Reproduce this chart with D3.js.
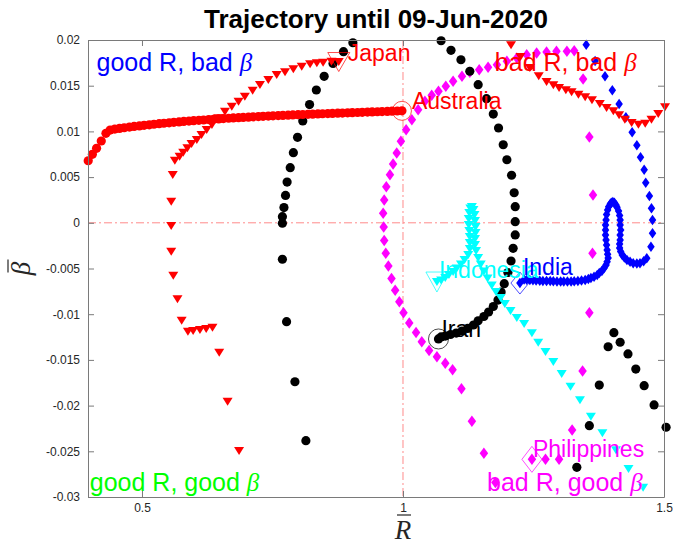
<!DOCTYPE html>
<html>
<head>
<meta charset="utf-8">
<script src="https://cdn.jsdelivr.net/npm/d3@7"></script>
<style>
  body { margin: 0; background: #fff; }
  svg { display: block; font-family: "Liberation Sans", Arial, Helvetica, sans-serif; }
</style>
</head>
<body>
<svg id="chart" width="678" height="546"></svg>
<script>
// ---- data: mean reproduction number R and growth-rate change beta per country ----
const australiaR = [0.397,0.405,0.413,0.422,0.431,0.439,0.448,0.457,0.466,0.476,0.485,0.495,0.504,0.514,0.523,0.533,0.542,0.552,0.561,0.571,0.580,0.590,0.599,0.609,0.618,0.628,0.637,0.647,0.656,0.666,0.675,0.685,0.694,0.704,0.713,0.723,0.732,0.742,0.751,0.761,0.770,0.780,0.789,0.799,0.808,0.818,0.827,0.837,0.846,0.856,0.865,0.875,0.884,0.894,0.903,0.913,0.922,0.932,0.941,0.951,0.960,0.970,0.979,0.989,0.998];
const australiaBeta = [0.00679,0.00749,0.00815,0.00895,0.00979,0.01015,0.01025,0.01033,0.01040,0.01047,0.01054,0.01060,0.01066,0.01072,0.01078,0.01084,0.01089,0.01094,0.01099,0.01104,0.01109,0.01113,0.01117,0.01121,0.01125,0.01129,0.01133,0.01137,0.01140,0.01144,0.01147,0.01150,0.01153,0.01156,0.01159,0.01162,0.01165,0.01168,0.01170,0.01173,0.01175,0.01178,0.01180,0.01183,0.01185,0.01187,0.01189,0.01191,0.01193,0.01195,0.01197,0.01199,0.01201,0.01203,0.01205,0.01207,0.01209,0.01211,0.01213,0.01215,0.01217,0.01219,0.01221,0.01223,0.01225];

const japanR = [0.686,0.664,0.648,0.635,0.623,0.611,0.598,0.588,0.576,0.568,0.560,0.556,0.556,0.556,0.559,0.563,0.572,0.579,0.587,0.595,0.605,0.614,0.624,0.634,0.646,0.659,0.672,0.685,0.697,0.712,0.726,0.742,0.758,0.774,0.790,0.806,0.822,0.835,0.847,0.863,0.877];
const japanBeta = [-0.02497,-0.01957,-0.01421,-0.01148,-0.01162,-0.01173,-0.01184,-0.01191,-0.01071,-0.00837,-0.00579,-0.00316,-0.00035,0.00231,0.00523,0.00679,0.00723,0.00767,0.00815,0.00862,0.00906,0.00961,0.01015,0.01070,0.01143,0.01216,0.01270,0.01325,0.01380,0.01445,0.01508,0.01562,0.01617,0.01647,0.01679,0.01708,0.01734,0.01745,0.01752,0.01763,0.01759];

// red trajectory whose end lies past the right edge (no label inside the axes)
const redTrailR = [1.207,1.225,1.243,1.260,1.275,1.288,1.299,1.312,1.323,1.336,1.349,1.362,1.377,1.390,1.403,1.414,1.425,1.438,1.451,1.464,1.476,1.489,1.502];
const redTrailBeta = [0.01942,0.01814,0.01694,0.01603,0.01540,0.01504,0.01475,0.01450,0.01428,0.01402,0.01373,0.01340,0.01300,0.01256,0.01220,0.01176,0.01128,0.01092,0.01073,0.01084,0.01128,0.01190,0.01264];

const iranR = [1.333,1.357,1.376,1.393,1.404,1.416,1.431,1.446,1.462,1.481,1.504,
  0.814,0.793,0.777,0.769,0.769,0.769,0.772,0.775,0.778,0.784,0.790,0.798,0.808,0.821,0.834,0.849,0.866,0.886,0.904,
  1.073,1.092,1.111,1.128,1.144,1.160,1.173,1.183,1.192,1.199,1.208,1.213,1.215,1.215,1.215,1.211,1.207,1.201,1.194,1.188,1.182,1.173,1.164,1.155,1.144,1.135,1.124,1.113,1.102,1.091,1.081,1.073,1.068];
const iranBeta = [-0.02675,-0.02220,-0.01775,-0.01356,-0.01202,-0.01307,-0.01435,-0.01600,-0.01782,-0.01993,-0.02237,
  -0.02384,-0.01739,-0.01082,-0.00399,-0.00005,0.00067,0.00167,0.00299,0.00446,0.00603,0.00767,0.00935,0.01114,0.01294,0.01453,0.01603,0.01743,0.01872,0.01970,
  0.01992,0.01887,0.01784,0.01658,0.01511,0.01358,0.01190,0.01037,0.00854,0.00690,0.00520,0.00329,0.00176,0.00012,-0.00133,-0.00279,-0.00418,-0.00544,-0.00666,-0.00757,-0.00845,-0.00916,-0.00976,-0.01025,-0.01072,-0.01118,-0.01156,-0.01184,-0.01206,-0.01222,-0.01239,-0.01249,-0.01271];

const philippinesR = [1.177,1.155,1.132,1.112,1.095,1.081,1.065,1.050,1.036,1.025,1.012,1.001,0.993,0.985,0.978,0.972,0.967,0.964,0.963,0.962,0.964,0.968,0.975,0.981,0.988,0.996,1.006,1.017,1.029,1.042,1.055,1.068,1.082,1.096,1.113,1.128,1.146,1.163,1.180,1.199,1.218,1.237,1.256,1.275,1.294,1.314,1.328,
  1.345,1.357,1.364,1.363,1.357,1.344,1.324,1.299,1.273,1.247];
const philippinesBeta = [-0.02841,-0.02522,-0.02171,-0.01815,-0.01607,-0.01537,-0.01465,-0.01397,-0.01301,-0.01200,-0.01096,-0.00984,-0.00863,-0.00739,-0.00609,-0.00473,-0.00334,-0.00194,-0.00046,0.00104,0.00249,0.00395,0.00526,0.00643,0.00764,0.00892,0.01019,0.01128,0.01237,0.01329,0.01395,0.01439,0.01493,0.01548,0.01603,0.01647,0.01675,0.01701,0.01730,0.01767,0.01803,0.01839,0.01858,0.01869,0.01876,0.01876,0.01883,
  0.01573,0.00939,0.00304,-0.00334,-0.00984,-0.01621,-0.02267,-0.02588,-0.02588,-0.02588];

const indonesiaR = [1.460,1.432,1.408,1.382,1.360,1.339,1.321,1.304,1.288,1.273,1.259,1.247,1.232,1.218,1.206,1.195,1.187,1.178,1.170,1.162,1.155,1.149,1.144,1.140,1.138,1.138,1.139,1.139,1.138,1.137,1.135,1.132,1.129,1.127,1.126,1.126,1.127,1.128,1.128,1.128,1.125,1.118,1.111,1.103,1.096,1.088,1.081,1.073,1.065];
const indonesiaBeta = [-0.02898,-0.02694,-0.02489,-0.02303,-0.02121,-0.01942,-0.01793,-0.01654,-0.01523,-0.01414,-0.01312,-0.01209,-0.01107,-0.01042,-0.00965,-0.00888,-0.00823,-0.00757,-0.00686,-0.00609,-0.00533,-0.00456,-0.00385,-0.00309,-0.00243,-0.00177,-0.00112,-0.00046,0.00020,0.00085,0.00140,0.00173,0.00156,0.00107,0.00042,-0.00024,-0.00090,-0.00155,-0.00221,-0.00287,-0.00352,-0.00407,-0.00456,-0.00500,-0.00538,-0.00571,-0.00604,-0.00631,-0.00648];

const indiaR = [1.351,1.368,1.387,1.401,1.414,1.427,1.439,1.448,1.455,1.462,1.465,1.472,1.476,1.478,1.478,1.475,1.467,1.461,1.454,1.448,1.441,1.435,1.429,1.424,1.420,1.417,1.415,1.415,1.416,1.416,1.417,1.416,1.416,1.415,1.413,1.410,1.408,1.405,1.402,1.399,1.397,1.394,1.392,1.390,1.389,1.388,1.388,1.388,1.389,1.390,1.391,1.392,1.393,1.391,1.389,1.385,1.381,1.376,1.372,1.366,1.360,1.355,1.349,1.342,1.335,1.328,1.322,1.315,1.308,1.302,1.295,1.288,1.282,1.275,1.268,1.262,1.255,1.249,1.243,1.237,1.232,1.224];
const indiaBeta = [0.01949,0.01770,0.01603,0.01450,0.01300,0.01154,0.00990,0.00848,0.00717,0.00581,0.00439,0.00293,0.00159,0.00031,-0.00115,-0.00261,-0.00388,-0.00420,-0.00443,-0.00445,-0.00443,-0.00425,-0.00407,-0.00380,-0.00352,-0.00315,-0.00276,-0.00232,-0.00188,-0.00134,-0.00079,-0.00024,0.00031,0.00080,0.00129,0.00170,0.00195,0.00220,0.00228,0.00220,0.00206,0.00175,0.00140,0.00090,0.00031,-0.00024,-0.00079,-0.00134,-0.00188,-0.00243,-0.00298,-0.00345,-0.00385,-0.00425,-0.00462,-0.00497,-0.00527,-0.00550,-0.00571,-0.00590,-0.00604,-0.00615,-0.00626,-0.00632,-0.00637,-0.00640,-0.00642,-0.00642,-0.00642,-0.00642,-0.00642,-0.00640,-0.00637,-0.00637,-0.00637,-0.00634,-0.00631,-0.00628,-0.00626,-0.00623,-0.00620,-0.00659];

const xTicks = [0.5, 1, 1.5];
const xTickLabels = ["0.5", "1", "1.5"];
const yTicks = [-0.03, -0.025, -0.02, -0.015, -0.01, -0.005, 0, 0.005, 0.01, 0.015, 0.02];
const yTickLabels = ["-0.03", "-0.025", "-0.02", "-0.015", "-0.01", "-0.005", "0", "0.005", "0.01", "0.015", "0.02"];
const xLimits = [0.3966, 1.5];
const yLimits = [-0.03, 0.02];
const titleText = "Trajectory until 09-Jun-2020";

// quadrant captions: text before the beta symbol, anchor in data units
const quadrantText = ["good R, bad ", "bad R, bad ", "good R, good ", "bad R, good "];
const quadrantR = [0.413, 1.176, 0.400, 1.161];
const quadrantBeta = [0.0166, 0.0166, -0.0293, -0.0293];

// ---- layout & styles ----
const plot = { left: 88, right: 664, top: 40, bottom: 497 };
const svg = d3.select("#chart");
const serif = "'Liberation Serif', 'Times New Roman', serif";

const x = d3.scaleLinear().domain(xLimits).range([plot.left, plot.right]);
const y = d3.scaleLinear().domain(yLimits).range([plot.bottom, plot.top]);

const tri = (w, h) => `M${-w/2},${-h/2}L${w/2},${-h/2}L0,${h/2}Z`;
const dia = (w, h) => `M0,${-h/2}L${w/2},0L0,${h/2}L${-w/2},0Z`;

const series = [
  { name: "Philippines", R: philippinesR, B: philippinesBeta, color: "#ff00ff", shape: "diamond", w: 8.5, h: 11.5,
    end: { shape: "diamond", w: 20, h: 26 }, label: { dx: 1, dy: -2 } },
  { name: "Iran", R: iranR, B: iranBeta, color: "#000000", shape: "circle", r: 4.6,
    end: { shape: "circle", r: 10 }, label: { dx: 3, dy: -2 } },
  { name: "Indonesia", R: indonesiaR, B: indonesiaBeta, color: "#00ffff", shape: "triangle", w: 10, h: 8,
    end: { shape: "triangle", w: 22, h: 20 }, label: { dx: 2, dy: -4 } },
  { name: "India", R: indiaR, B: indiaBeta, color: "#0000ff", shape: "diamond", w: 7.5, h: 10.5,
    end: { shape: "diamond", w: 18, h: 22 }, label: { dx: 3, dy: -8 } },
  { name: null, R: redTrailR, B: redTrailBeta, color: "#ff0000", shape: "triangle", w: 10, h: 8 },
  { name: "Japan", R: japanR, B: japanBeta, color: "#ff0000", shape: "triangle", w: 10, h: 8,
    end: { shape: "triangle", w: 22, h: 19 }, label: { dx: 9, dy: -1 } },
  { name: "Australia", R: australiaR, B: australiaBeta, color: "#ff0000", shape: "circle", r: 4.6,
    end: { shape: "circle", r: 9.5 }, label: { dx: 10, dy: -2 } }
];

// ---- reference lines R = 1 and beta = 0 ----
const refG = svg.append("g").attr("stroke", "#ff8a8a").attr("stroke-width", 1)
  .attr("stroke-dasharray", "8,3,2,3");
refG.append("line").attr("x1", x(1)).attr("x2", x(1)).attr("y1", plot.top).attr("y2", plot.bottom);
refG.append("line").attr("x1", plot.left).attr("x2", plot.right).attr("y1", y(0)).attr("y2", y(0));

// ---- trajectories ----
series.forEach(s => {
  const pts = d3.zip(s.R, s.B);
  const g = svg.append("g").attr("fill", s.color);
  if (s.shape === "circle") {
    g.selectAll("circle").data(pts).join("circle")
      .attr("cx", d => x(d[0])).attr("cy", d => y(d[1])).attr("r", s.r);
  } else {
    const p = s.shape === "triangle" ? tri(s.w, s.h) : dia(s.w, s.h);
    g.selectAll("path").data(pts).join("path")
      .attr("transform", d => `translate(${x(d[0])},${y(d[1])})`).attr("d", p);
  }
});

// ---- hollow markers at the latest point ----
series.filter(s => s.end).forEach(s => {
  const cx = x(s.R[s.R.length - 1]), cy = y(s.B[s.B.length - 1]);
  const e = s.end;
  if (e.shape === "circle") {
    svg.append("circle").attr("cx", cx).attr("cy", cy).attr("r", e.r)
      .attr("fill", "none").attr("stroke", s.color).attr("stroke-width", 0.7);
  } else {
    svg.append("path").attr("transform", `translate(${cx},${cy})`)
      .attr("d", e.shape === "triangle" ? tri(e.w, e.h) : dia(e.w, e.h))
      .attr("fill", "none").attr("stroke", s.color).attr("stroke-width", 0.7);
  }
});

// ---- country labels ----
series.filter(s => s.name).forEach(s => {
  const cx = x(s.R[s.R.length - 1]), cy = y(s.B[s.B.length - 1]);
  svg.append("text")
    .attr("x", cx + s.label.dx).attr("y", cy + s.label.dy)
    .attr("fill", s.color).attr("font-size", 23)
    .text(s.name);
});

// ---- quadrant captions ----
const quadColors = ["#0000ff", "#ff0000", "#00ff00", "#ff00ff"];
quadrantText.forEach((t, i) => {
  const tx = svg.append("text")
    .attr("x", x(quadrantR[i])).attr("y", y(quadrantBeta[i]))
    .attr("fill", quadColors[i]).attr("font-size", 25);
  tx.append("tspan").text(t);
  tx.append("tspan").attr("font-family", serif).attr("font-style", "italic").text("\u03B2");
});

// ---- axes (box with inward ticks on all four sides) ----
const axisColor = "#7a7a7a";
const styleAxis = g => {
  g.select(".domain").attr("stroke", axisColor);
  g.selectAll(".tick line").attr("stroke", axisColor);
  g.selectAll(".tick text").attr("fill", "#262626").attr("font-size", 12)
    .attr("font-family", "'Liberation Sans', Arial, Helvetica, sans-serif");
};
svg.append("g").attr("transform", `translate(0,${plot.bottom})`)
  .call(d3.axisBottom(x).tickValues(xTicks).tickFormat((d, i) => xTickLabels[i])
    .tickSizeInner(-6).tickSizeOuter(0).tickPadding(6))
  .call(styleAxis);
svg.append("g").attr("transform", `translate(0,${plot.top})`)
  .call(d3.axisTop(x).tickValues(xTicks).tickFormat("").tickSizeInner(-6).tickSizeOuter(0))
  .call(styleAxis);
svg.append("g").attr("transform", `translate(${plot.left},0)`)
  .call(d3.axisLeft(y).tickValues(yTicks).tickFormat((d, i) => yTickLabels[i])
    .tickSizeInner(-6).tickSizeOuter(0).tickPadding(8))
  .call(styleAxis);
svg.append("g").attr("transform", `translate(${plot.right},0)`)
  .call(d3.axisRight(y).tickValues(yTicks).tickFormat("").tickSizeInner(-6).tickSizeOuter(0))
  .call(styleAxis);

// ---- title ----
svg.append("text").attr("x", (plot.left + plot.right) / 2).attr("y", 28)
  .attr("text-anchor", "middle").attr("font-weight", "bold").attr("font-size", 26)
  .attr("fill", "#000").text(titleText);

// ---- axis labels: italic symbol with an overbar ----
const xLab = svg.append("g").attr("transform", `translate(${x(1)},539)`);
xLab.append("text").attr("text-anchor", "middle").attr("font-size", 27)
  .attr("font-family", serif).attr("font-style", "italic").attr("fill", "#262626").text("R");
xLab.append("line").attr("x1", -6).attr("x2", 8).attr("y1", -24).attr("y2", -24)
  .attr("stroke", "#262626").attr("stroke-width", 1.2);

const yLab = svg.append("g")
  .attr("transform", `translate(30,${(plot.top + plot.bottom) / 2}) rotate(-90)`);
yLab.append("text").attr("text-anchor", "middle").attr("font-size", 27)
  .attr("font-family", serif).attr("font-style", "italic").attr("fill", "#262626").text("\u03B2");
yLab.append("line").attr("x1", -4).attr("x2", 9).attr("y1", -22).attr("y2", -22)
  .attr("stroke", "#262626").attr("stroke-width", 1.2);
</script>
</body>
</html>
